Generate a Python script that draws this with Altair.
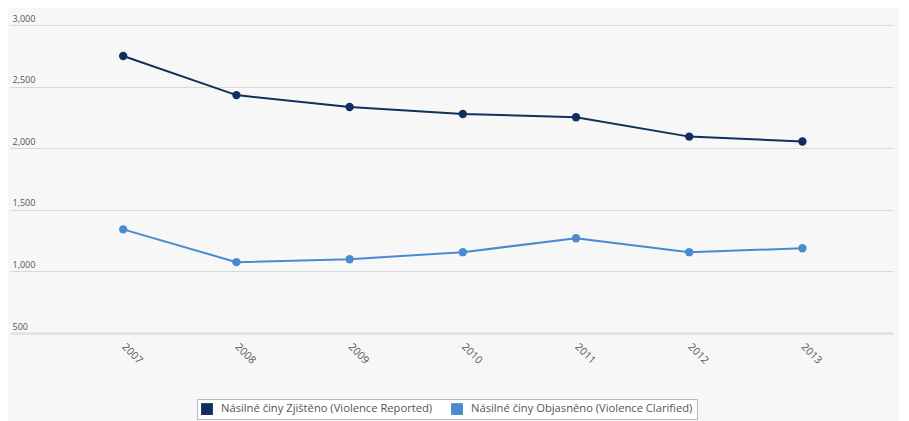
import altair as alt
import pandas as pd

years = [2007, 2008, 2009, 2010, 2011, 2012, 2013]
reported = [2748, 2431, 2334, 2278, 2251, 2094, 2054]
clarified = [1341, 1075, 1099, 1156, 1269, 1156, 1188]
series_names = ["Násilné činy Zjištěno (Violence Reported)",
                "Násilné činy Objasněno (Violence Clarified)"]
series_colors = ["#102f5e", "#4a8bd0"]
y_ticks = [500, 1000, 1500, 2000, 2500, 3000]

rows = []
for y, v in zip(years, reported):
    rows.append({"year": y, "value": v, "series": series_names[0]})
for y, v in zip(years, clarified):
    rows.append({"year": y, "value": v, "series": series_names[1]})
df = pd.DataFrame(rows)

color = alt.Color(
    "series:N",
    scale=alt.Scale(domain=series_names, range=series_colors),
    legend=alt.Legend(
        title=None, orient="none", direction="horizontal",
        legendX=187, legendY=374,
        fillColor="white", strokeColor="#bbbbbb", padding=4,
        symbolType="square", symbolSize=140, symbolStrokeWidth=0,
        labelFontSize=11.2, labelFont="Open Sans", labelColor="#555555",
        labelLimit=400, columnPadding=18, symbolOffset=0, labelOffset=8,
    ),
)

x = alt.X("year:Q",
          scale=alt.Scale(domain=[2006, 2013.8], nice=False, zero=False),
          axis=alt.Axis(values=years, format="d", title=None, grid=False,
                        labelAngle=45, labelAlign="left", labelBaseline="middle",
                        labelPadding=12, labelFontSize=10.5, labelFont="Open Sans",
                        labelColor="#555555", ticks=False,
                        domainColor="#e4e4e4", domainWidth=3))
y = alt.Y("value:Q",
          scale=alt.Scale(domain=[500, 3000], nice=False, zero=False),
          axis=alt.Axis(values=y_ticks, format=",d", title=None, grid=True,
                        gridColor="#d9d9d9", gridWidth=1, domain=False, ticks=False,
                        labelAlign="left", labelBaseline="bottom", labelPadding=-2,
                        labelOffset=-2, labelFontSize=9, labelFont="Open Sans",
                        labelColor="#555555"))

base = alt.Chart(df).encode(x=x, y=y, color=color)
lines = base.mark_line(strokeWidth=2)
points = base.mark_circle(size=70, opacity=1)

chart = (lines + points).properties(
    width=883, height=308,
    background="#f7f7f7",
    padding={"left": 2, "top": 17, "right": 6, "bottom": 88},
    autosize=alt.AutoSizeParams(type="none"),
).configure_view(stroke=None)

chart.save("out.html", embed_options={"renderer": "svg", "actions": False})
